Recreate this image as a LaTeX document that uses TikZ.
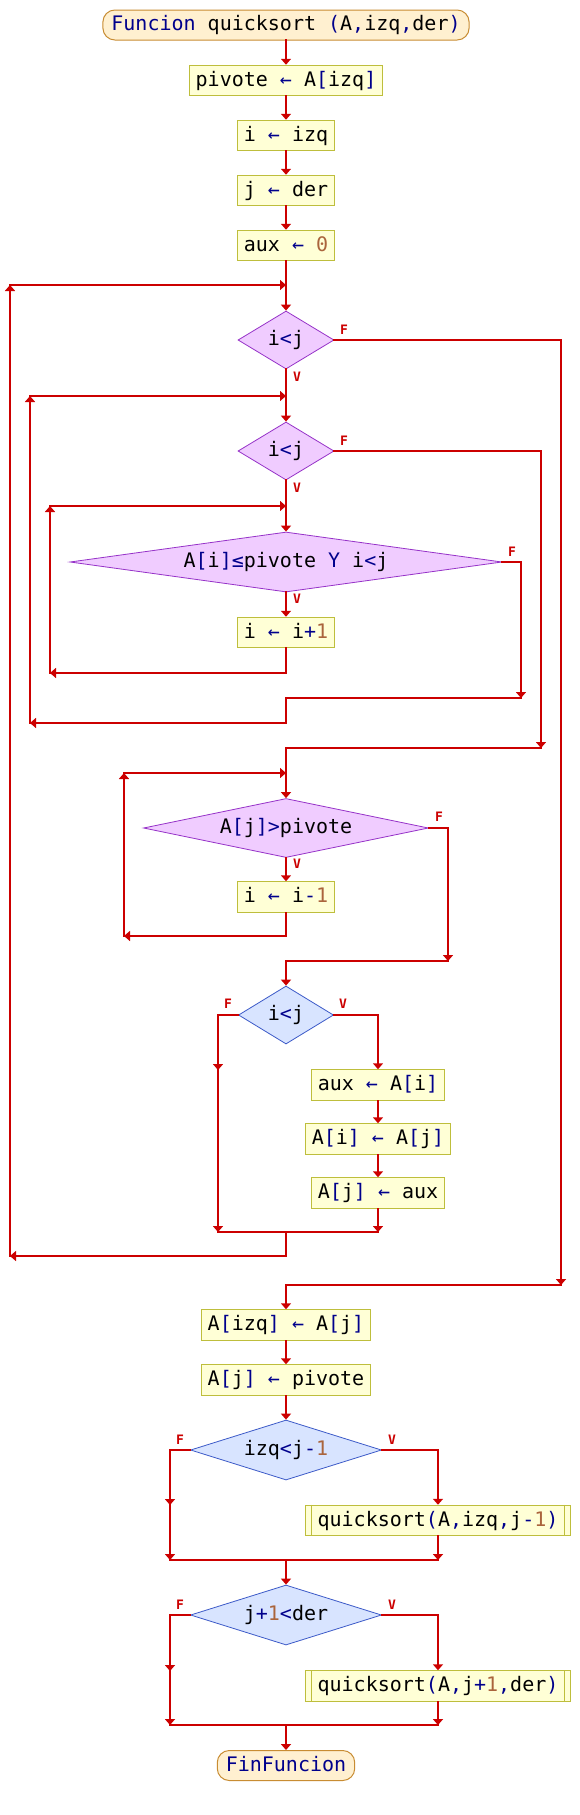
\documentclass[tikz,border=0pt]{standalone}
\usepackage{fontspec}
\usetikzlibrary{shapes.geometric,arrows.meta}
\newfontfamily\monof{DejaVu Sans Mono}
\newcommand{\mainf}{\monof\fontsize{20}{24}\selectfont}
\newcommand{\labfont}{\monof\bfseries\fontsize{13}{14}\selectfont}
\definecolor{navyc}{RGB}{0,0,140}
\definecolor{numc}{RGB}{170,100,60}
\definecolor{linec}{RGB}{204,0,0}
\definecolor{procF}{RGB}{255,255,214}
\definecolor{procB}{RGB}{190,190,60}
\definecolor{termF}{RGB}{255,240,208}
\definecolor{termB}{RGB}{200,140,50}
\definecolor{loopF}{RGB}{240,204,255}
\definecolor{loopB}{RGB}{150,50,200}
\definecolor{ifF}{RGB}{216,228,255}
\definecolor{ifB}{RGB}{60,90,200}
\newcommand{\nv}[1]{\textcolor{navyc}{#1}}
\newcommand{\nm}[1]{\textcolor{numc}{#1}}
\begin{document}
\begin{tikzpicture}[x=1pt,y=-1pt,
  conn/.style={draw=linec, line width=2.4pt, line cap=rect},
  arr/.style={conn, -{Triangle[width=10pt,length=6pt]}},
  proc/.style={draw=procB, fill=procF, line width=1pt, inner xsep=6.5pt, inner ysep=4.75pt, text height=16pt, text depth=5pt, font=\mainf},
  subp/.style={proc, inner xsep=11.6pt},
  term/.style={draw=termB, fill=termF, line width=1pt, rounded corners=12pt, inner xsep=8.5pt, inner ysep=4.5pt, text height=16pt, text depth=5pt, font=\mainf},
  loopd/.style={diamond, draw=loopB, fill=loopF, line width=0.8pt, inner sep=0pt, text height=16pt, text depth=5pt, font=\mainf},
  ifd/.style={diamond, draw=ifB, fill=ifF, line width=0.8pt, inner sep=0pt, text height=16pt, text depth=5pt, font=\mainf},
  lab/.style={text=linec, font=\labfont, inner sep=0pt},
]
\fill[white] (0,0) rectangle (580,1815);
\useasboundingbox (0,0) rectangle (580,1815);

% nodes
\node[term] (start) at (286,25) {\nv{Funcion} quicksort \nv{(}A\nv{,}izq\nv{,}der\nv{)}};
\node[proc] (p1) at (286,80.5) {pivote \nv{←} A\nv{[}izq\nv{]}};
\node[proc] (p2) at (286,135.5) {i \nv{←} izq};
\node[proc] (p3) at (286,190.5) {j \nv{←} der};
\node[proc] (p4) at (286,245.5) {aux \nv{←} \nm{0}};
\node[loopd, minimum width=96pt, minimum height=58pt, aspect=1.65] (d1) at (286,340) {i\nv{<}j};
\node[loopd, minimum width=96pt, minimum height=58pt, aspect=1.65] (d2) at (286,451) {i\nv{<}j};
\node[loopd, minimum width=432pt, minimum height=60pt, aspect=7] (d3) at (286,562) {A\nv{[}i\nv{]}\nv{≤}pivote \nv{Y} i\nv{<}j};
\node[proc] (p5) at (286,632.5) {i \nv{←} i\nv{+}\nm{1}};
\node[loopd, minimum width=285pt, minimum height=59pt, aspect=4.8] (d4) at (286,828) {A\nv{[}j\nv{]}\nv{>}pivote};
\node[proc] (p6) at (286,897) {i \nv{←} i\nv{-}\nm{1}};
\node[ifd, minimum width=95pt, minimum height=58pt, aspect=1.65] (d5) at (286,1015) {i\nv{<}j};
\node[proc] (p7) at (378,1085) {aux \nv{←} A\nv{[}i\nv{]}};
\node[proc] (p8) at (378,1139) {A\nv{[}i\nv{]} \nv{←} A\nv{[}j\nv{]}};
\node[proc] (p9) at (378,1193) {A\nv{[}j\nv{]} \nv{←} aux};
\node[proc] (p10) at (286,1325) {A\nv{[}izq\nv{]} \nv{←} A\nv{[}j\nv{]}};
\node[proc] (p11) at (286,1380) {A\nv{[}j\nv{]} \nv{←} pivote};
\node[ifd, minimum width=191pt, minimum height=60pt, aspect=3.2] (d6) at (286,1450) {izq\nv{<}j\nv{-}\nm{1}};
\node[subp] (q1) at (438,1520.5) {quicksort\nv{(}A\nv{,}izq\nv{,}j\nv{-}\nm{1}\nv{)}};
\node[ifd, minimum width=191pt, minimum height=60pt, aspect=3.2] (d7) at (286,1615) {j\nv{+}\nm{1}\nv{<}der};
\node[subp] (q2) at (438,1686) {quicksort\nv{(}A\nv{,}j\nv{+}\nm{1}\nv{,}der\nv{)}};
\node[term] (fin) at (286,1765.5) {\nv{FinFuncion}};

\foreach \q in {q1,q2}{
  \draw[procB, line width=1pt] ([xshift=6pt]\q.north west) -- ([xshift=6pt]\q.south west);
  \draw[procB, line width=1pt] ([xshift=-6pt]\q.north east) -- ([xshift=-6pt]\q.south east);
}

% coordinates
\coordinate (c1a) at (286,1256); \coordinate (c1b) at (10,1256);
\coordinate (c1c) at (10,285);   \coordinate (c1d) at (286,285);
\coordinate (c2a) at (286,723);  \coordinate (c2b) at (30,723);
\coordinate (c2c) at (30,396);   \coordinate (c2d) at (286,396);
\coordinate (c3a) at (286,673);  \coordinate (c3b) at (50,673);
\coordinate (c3c) at (50,506);   \coordinate (c3d) at (286,506);
\coordinate (c4a) at (286,936);  \coordinate (c4b) at (124,936);
\coordinate (c4c) at (124,773);  \coordinate (c4d) at (286,773);
\coordinate (f1a) at (561,340);  \coordinate (f1b) at (561,1285); \coordinate (f1c) at (286,1285);
\coordinate (f2a) at (541,451);  \coordinate (f2b) at (541,748);  \coordinate (f2c) at (286,748);
\coordinate (f3a) at (521,562);  \coordinate (f3b) at (521,698);  \coordinate (f3c) at (286,698);
\coordinate (f4a) at (448,828);  \coordinate (f4b) at (448,961);  \coordinate (f4c) at (286,961);
\coordinate (f5a) at (218,1015); \coordinate (f5b) at (218,1070); \coordinate (f5c) at (218,1232);
\coordinate (v5a) at (378,1015); \coordinate (v5c) at (378,1232); \coordinate (j5) at (286,1232);
\coordinate (f6a) at (170,1450); \coordinate (f6b) at (170,1505); \coordinate (f6c) at (170,1560);
\coordinate (v6a) at (438,1450); \coordinate (v6c) at (438,1560); \coordinate (j6) at (286,1560);
\coordinate (f7a) at (170,1615); \coordinate (f7b) at (170,1671); \coordinate (f7c) at (170,1725);
\coordinate (v7a) at (438,1615); \coordinate (v7c) at (438,1725); \coordinate (j7) at (286,1725);

% main chain
\draw[arr] (start.south) -- (p1.north);
\draw[arr] (p1.south) -- (p2.north);
\draw[arr] (p2.south) -- (p3.north);
\draw[arr] (p3.south) -- (p4.north);
\draw[arr] (p4.south) -- (d1.north);
\draw[arr] (d1.south) -- (d2.north);
\draw[arr] (d2.south) -- (d3.north);
\draw[arr] (d3.south) -- (p5.north);
% inner loop 3
\draw[arr] (p5.south) -- (c3a) -- (c3b);
\draw[arr] (c3b) -- (c3c);
\draw[arr] (c3c) -- (c3d);
% d3 false -> loop 2 back
\draw[arr] (d3.east) -- (f3a) -- (f3b);
\draw[arr] (f3b) -- (f3c) -- (c2a) -- (c2b);
\draw[arr] (c2b) -- (c2c);
\draw[arr] (c2c) -- (c2d);
% d2 false
\draw[arr] (d2.east) -- (f2a) -- (f2b);
\draw[arr] (f2b) -- (f2c) -- (d4.north);
% loop 4
\draw[arr] (d4.south) -- (p6.north);
\draw[arr] (p6.south) -- (c4a) -- (c4b);
\draw[arr] (c4b) -- (c4c);
\draw[arr] (c4c) -- (c4d);
% d4 false
\draw[arr] (d4.east) -- (f4a) -- (f4b);
\draw[arr] (f4b) -- (f4c) -- (d5.north);
% d5
\draw[arr] (d5.west) -- (f5a) -- (f5b);
\draw[arr] (f5b) -- (f5c);
\draw[arr] (d5.east) -- (v5a) -- (p7.north);
\draw[arr] (p7.south) -- (p8.north);
\draw[arr] (p8.south) -- (p9.north);
\draw[arr] (p9.south) -- (v5c);
\draw[conn] (f5c) -- (v5c);
% loop 1 back
\draw[arr] (j5) -- (c1a) -- (c1b);
\draw[arr] (c1b) -- (c1c);
\draw[arr] (c1c) -- (c1d);
% d1 false
\draw[arr] (d1.east) -- (f1a) -- (f1b);
\draw[arr] (f1b) -- (f1c) -- (p10.north);
\draw[arr] (p10.south) -- (p11.north);
\draw[arr] (p11.south) -- (d6.north);
% d6
\draw[arr] (d6.west) -- (f6a) -- (f6b);
\draw[arr] (f6b) -- (f6c);
\draw[arr] (d6.east) -- (v6a) -- (q1.north);
\draw[arr] (q1.south) -- (v6c);
\draw[conn] (f6c) -- (v6c);
\draw[arr] (j6) -- (d7.north);
% d7
\draw[arr] (d7.west) -- (f7a) -- (f7b);
\draw[arr] (f7b) -- (f7c);
\draw[arr] (d7.east) -- (v7a) -- (q2.north);
\draw[arr] (q2.south) -- (v7c);
\draw[conn] (f7c) -- (v7c);
\draw[arr] (j7) -- (fin.north);

% labels
\node[lab] (lF1) at (344,330) {F};
\node[lab] (lV1) at (297,377) {V};
\node[lab] (lF2) at (344,441) {F};
\node[lab] (lV2) at (297,488) {V};
\node[lab] (lF3) at (512,552) {F};
\node[lab] (lV3) at (297,599) {V};
\node[lab] (lF4) at (439,817) {F};
\node[lab] (lV4) at (297,864) {V};
\node[lab] (lF5) at (228,1004) {F};
\node[lab] (lV5) at (343,1004) {V};
\node[lab] (lF6) at (180,1440) {F};
\node[lab] (lV6) at (392,1440) {V};
\node[lab] (lF7) at (180,1605) {F};
\node[lab] (lV7) at (392,1605) {V};
\end{tikzpicture}
\end{document}
